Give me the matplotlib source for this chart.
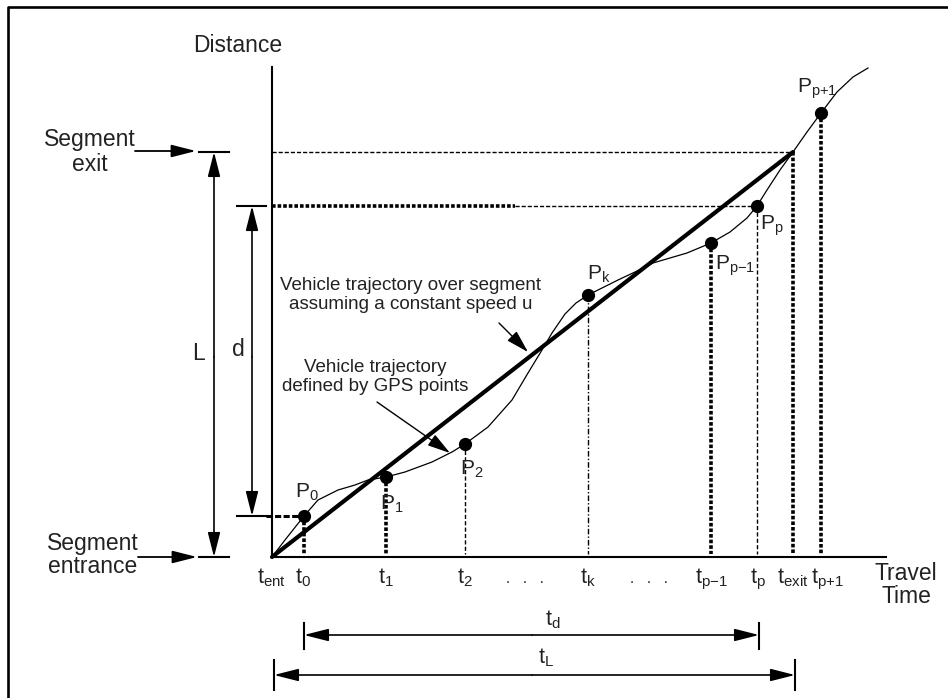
import matplotlib.pyplot as plt

plt.rcParams['font.family'] = ['Liberation Sans', 'DejaVu Sans']
plt.rcParams['mathtext.default'] = 'regular'

# --- diagram data (time units from t_ent, distance units from segment entrance) ---
L = 405          # segment length
t_exit = 521     # time the constant-speed line reaches the segment exit

# time ticks on the horizontal axis
tick_names = ['ent', '0', '1', '2', 'k', 'p{-}1', 'p', 'exit', 'p{+}1']
tick_t = [0, 31, 114, 193, 316, 439, 486, 521, 555]

# GPS points
gps_names = ['0', '1', '2', 'k', 'p{-}1', 'p', 'p{+}1']
gps_t = [32, 114, 193, 316, 439, 485, 549]
gps_s = [41, 80, 113, 262, 314, 351, 444]
# where each P label sits (left edge, baseline)
gps_label_t = [23, 108, 188, 315, 443, 488, 525]
gps_label_s = [59, 47, 82, 277, 287, 327, 464]

# vehicle trajectory
traj_t = [0, 13, 32, 46, 66, 83, 96, 114, 133, 160, 180, 193, 216, 240, 256,
          270, 280, 293, 304, 316, 330, 346, 363, 381, 415, 439, 458, 475, 485,
          495, 508, 521, 535, 549, 565, 581, 596]
traj_s = [0, 17, 41, 57, 67, 72, 77, 80, 85, 95, 105, 113, 130, 157, 184,
          207, 224, 243, 254, 262, 269, 277, 285, 294, 304, 314, 325, 339, 351,
          367, 387, 405, 425, 444, 465, 480, 489]

# drop lines from each point down to the time axis
drop_t = [32, 114, 193, 316, 439, 485, 521, 549]
drop_s = [41, 80, 113, 262, 314, 351, 405, 444]
drop_style = ['thick', 'thick', 'thin', 'dashdot', 'thick', 'thin', 'thick', 'thick']

INK = 'black'
TXT = '#222222'

styles = {
    'thick': dict(lw=2.6, linestyle=(0, (1, 0.55))),
    'thin': dict(lw=1.0, linestyle=(0, (3, 1.6))),
    'dashdot': dict(lw=1.0, linestyle=(0, (4, 1.5, 1, 1.5))),
}

fig = plt.figure(figsize=(9.48, 6.98), dpi=100)
ax = fig.add_axes([0, 0, 1, 1])
ax.set_xlim(-272, 676)
ax.set_ylim(-141, 557)
ax.axis('off')

# outer frame (only left and top edges show)
ax.plot([-264, -264, 680], [-145, 550, 550], color=INK, lw=1.9)

# axes
ax.plot([0, 0], [0, 490], color=INK, lw=1.5)
ax.plot([0, 614], [0, 0], color=INK, lw=1.5)
ax.text(-34, 511, 'Distance', ha='center', va='center', fontsize=16.5, color=TXT)
ax.text(634, -28, 'Travel\nTime', ha='center', va='center', fontsize=16.5,
        color=TXT, linespacing=1.05)

# guide lines
ax.plot([0, t_exit], [L, L], color=INK, lw=1.0, linestyle=(0, (3, 1.4)))
ax.plot([0, 243], [gps_s[5], gps_s[5]], color=INK, **styles['thick'])
ax.plot([243, gps_t[5]], [gps_s[5], gps_s[5]], color=INK, lw=1.0, linestyle=(0, (3, 1.4)))
ax.plot([-6, gps_t[0]], [gps_s[0], gps_s[0]], color=INK, lw=2.2, linestyle=(0, (2, 0.8)))

for t, s, st in zip(drop_t, drop_s, drop_style):
    ax.plot([t, t], [s, 3], color=INK, **styles[st])

# constant-speed trajectory and GPS trajectory
ax.plot([0, t_exit], [0, L], color=INK, lw=3.0, solid_capstyle='round')
ax.plot(traj_t, traj_s, color=INK, lw=0.9)
ax.plot(gps_t, gps_s, 'o', color=INK, ms=8.5, lw=0)

for name, lt, ls in zip(gps_names, gps_label_t, gps_label_s):
    ax.text(lt, ls, r'$\mathregular{P_{%s}}$' % name, ha='left', va='baseline',
            fontsize=15, color=TXT)

# time tick labels
for name, t in zip(tick_names, tick_t):
    ax.text(t, -26, r'$\mathregular{t_{%s}}$' % name, ha='center', va='baseline',
            fontsize=15.5, color=TXT)
for t in [253, 377]:
    ax.text(t, -26, '.   .   .', ha='center', va='baseline', fontsize=11, color=TXT)

head = '-|>,head_length=1.5,head_width=0.38'


def arrow(p0, p1, style=head, lw=1.3):
    ax.annotate('', xy=p1, xytext=p0,
                arrowprops=dict(arrowstyle=style, color=INK, lw=lw,
                                shrinkA=0, shrinkB=0))


# segment entrance / exit markers
ax.text(-182, 405, 'Segment\nexit', ha='center', va='center', fontsize=16.5,
        color=TXT, linespacing=1.1)
ax.text(-179, 2, 'Segment\nentrance', ha='center', va='center', fontsize=16.5,
        color=TXT, linespacing=1.05)
arrow((-137, 406), (-76, 406))
arrow((-134, 0), (-75, 0))

# L dimension
ax.plot([-73, -43], [L, L], color=INK, lw=1.5)
ax.plot([-73, -43], [0, 0], color=INK, lw=1.5)
arrow((-58, 200), (-58, L), lw=1.2)
arrow((-58, 200), (-58, 0), lw=1.2)
ax.text(-73, 203, 'L', ha='center', va='center', fontsize=16.5, color=TXT)

# d dimension
ax.plot([-35, -6], [gps_s[5], gps_s[5]], color=INK, lw=1.5)
ax.plot([-35, -6], [gps_s[0], gps_s[0]], color=INK, lw=1.5)
arrow((-20, 200), (-20, gps_s[5]), lw=1.2)
arrow((-20, 200), (-20, gps_s[0]), lw=1.2)
ax.text(-34, 207, 'd', ha='center', va='center', fontsize=16.5, color=TXT)

# t_d and t_L dimensions
ax.plot([gps_t[0], gps_t[0]], [-66, -92], color=INK, lw=1.5)
ax.plot([gps_t[5] + 2, gps_t[5] + 2], [-66, -92], color=INK, lw=1.5)
arrow((260, -78), (gps_t[0], -78), lw=1.2)
arrow((260, -78), (gps_t[5] + 2, -78), lw=1.2)
ax.text(281, -63, r'$\mathregular{t_d}$', ha='center', va='center', fontsize=15.5, color=TXT)

ax.plot([2, 2], [-103, -133], color=INK, lw=1.5)
ax.plot([t_exit + 2, t_exit + 2], [-103, -133], color=INK, lw=1.5)
arrow((260, -118), (2, -118), lw=1.2)
arrow((260, -118), (t_exit + 2, -118), lw=1.2)
ax.text(274, -101, r'$\mathregular{t_L}$', ha='center', va='center', fontsize=15.5, color=TXT)

# annotations
ax.text(139, 262, 'Vehicle trajectory over segment\nassuming a constant speed u',
        ha='center', va='center', fontsize=13.5, color=TXT, linespacing=1.1)
arrow((227, 234), (256, 205), style='-|>,head_length=1.4,head_width=0.4', lw=1.0)

ax.text(103, 180, 'Vehicle trajectory\ndefined by GPS points',
        ha='center', va='center', fontsize=13.5, color=TXT, linespacing=1.1)
arrow((105, 155), (178, 104), style='-|>,head_length=1.4,head_width=0.4', lw=1.0)

fig.savefig('out.png', dpi=100)
